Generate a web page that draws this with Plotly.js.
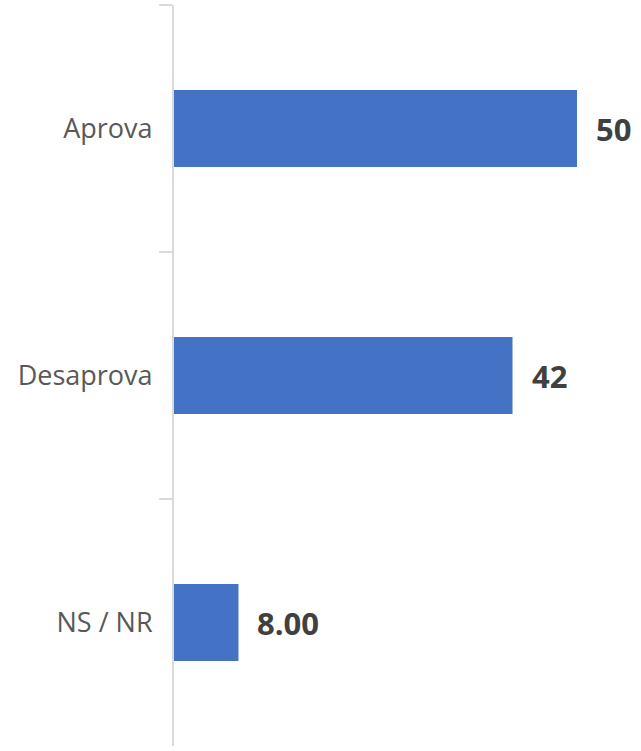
<!DOCTYPE html>
<html>
<head>
<meta charset="utf-8">
<script src="https://cdn.plot.ly/plotly-3.0.1.min.js"></script>
<style>html,body{margin:0;padding:0;background:#fff;}#chart{width:641px;height:751px;}</style>
</head>
<body>
<div id="chart"></div>
<script>
const categories = ["Aprova", "Desaprova", "NS / NR"];
const values = [50, 42, 8];
const valueLabels = ["50", "42", "8.00"];

const annotations = categories.map((c, i) => ({
  x: values[i], y: c, xref: 'x', yref: 'y',
  text: '<b>' + valueLabels[i] + '</b>',
  showarrow: false, xanchor: 'left', yanchor: 'middle', xshift: 17,
  font: {family: 'Open Sans, sans-serif', size: 31, color: '#404040'}
}));

const trace = {
  type: 'bar', orientation: 'h',
  x: values, y: categories,
  width: 0.312,
  marker: {color: '#4472C4'},
  hoverinfo: 'none'
};

const layout = {
  width: 641, height: 751,
  margin: {l: 174, r: 0, t: 5, b: 5},
  paper_bgcolor: '#ffffff', plot_bgcolor: '#ffffff',
  showlegend: false,
  xaxis: {range: [0, 57.94], showgrid: false, zeroline: false, showticklabels: false, showline: false, ticks: ''},
  yaxis: {
    type: 'category', categoryorder: 'array', categoryarray: categories,
    range: [2.5, -0.5],
    showline: true, linecolor: '#d9d9d9', linewidth: 2,
    ticks: 'outside', tickson: 'boundaries', ticklen: 13, tickcolor: '#d9d9d9', tickwidth: 2,
    ticklabelstandoff: 14,
    showgrid: false, zeroline: false,
    tickfont: {family: 'Open Sans, sans-serif', size: 27, color: '#595959'}
  },
  annotations: annotations
};

Plotly.newPlot('chart', [trace], layout, {displayModeBar: false, staticPlot: true});
</script>
</body>
</html>
